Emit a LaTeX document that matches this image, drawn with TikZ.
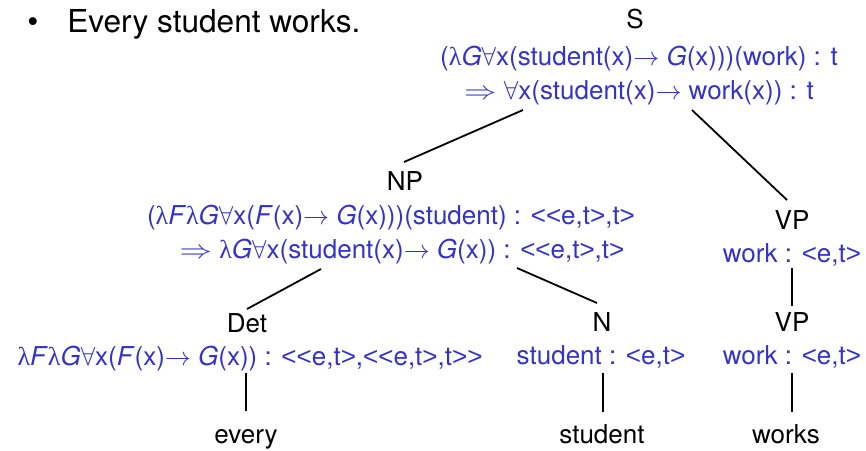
\RequirePackage{fix-cm}
\documentclass[tikz,border=0pt]{standalone}
\usepackage{fontspec}
\setmainfont{TeX Gyre Heros}
\newfontfamily\greekfont{Liberation Serif}
\newfontfamily\anglefont{Liberation Sans}
\definecolor{semblue}{RGB}{51,51,204}
\newcommand{\lam}{{\greekfont λ}}
\newcommand{\la}{{\anglefont\symbol{"3C}}}
\newcommand{\ra}{{\anglefont\symbol{"3E}}}
\newcommand{\yields}{\scalebox{1.25}[1]{$\Rightarrow$}}
\tikzset{
  cat/.style={anchor=base, inner sep=0pt, font=\fontsize{13}{16}\selectfont, text=black},
  semline/.style={cat, text=semblue},
  branch/.style={draw=black, line width=0.9pt},
}
\begin{document}
\begin{tikzpicture}[x=0.5pt, y=-0.5pt]
\useasboundingbox (0,0) rectangle (866,450);

% example sentence
\node[anchor=base, inner sep=0pt, font=\fontsize{15.8}{19}\selectfont] (bul) at (33,32) {\textbullet};
\node[anchor=base west, inner sep=0pt, font=\fontsize{15.8}{19}\selectfont] (sent) at (67,32) {Every student works.};

% S
\node[cat] (S) at (635,28) {S};
\node[semline] (s1) at (639,65) {(\lam\textit{G}$\forall$x(student(x)$\rightarrow$ \textit{G}(x)))(work) : t};
\node[semline] (s2) at (639,99) {\yields\ $\forall$x(student(x)$\rightarrow$ work(x)) : t};

% NP
\node[cat] (NP) at (405,190) {NP};
\node[semline] (np1) at (391,224) {(\lam\textit{F}\lam\textit{G}$\forall$x(\textit{F}(x)$\rightarrow$ \textit{G}(x)))(student) : \la\la e,t\ra,t\ra};
\node[semline] (np2) at (402,258) {\yields\ \lam\textit{G}$\forall$x(student(x)$\rightarrow$ \textit{G}(x)) : \la\la e,t\ra,t\ra};

% VP (upper)
\node[cat] (VP) at (792,229) {VP};
\node[semline] (vp1) at (792,262) {work : \la e,t\ra};

% Det
\node[cat] (Det) at (247,332) {Det};
\node[semline] (det1) at (250,365) {\lam\textit{F}\lam\textit{G}$\forall$x(\textit{F}(x)$\rightarrow$ \textit{G}(x)) : \la\la e,t\ra,\la\la e,t\ra,t\ra\ra};

% N
\node[cat] (N) at (602,331) {N};
\node[semline] (n1) at (601,364) {student : \la e,t\ra};

% VP (lower)
\node[cat] (VPb) at (792,331) {VP};
\node[semline] (vp2) at (792,364) {work : \la e,t\ra};

% words
\node[cat] (every) at (246,443) {every};
\node[cat] (student) at (602,443) {student};
\node[cat] (works) at (786,443) {works};

% branch end points
\coordinate (sA) at (523,110);
\coordinate (sB) at (692,110);
\coordinate (npTop) at (404,162);
\coordinate (vpTop) at (787,200);
\coordinate (npA) at (321,269);
\coordinate (npB) at (517,268);
\coordinate (detTop) at (247,309);
\coordinate (nTop) at (597,303);
\coordinate (vpA) at (792,268);
\coordinate (vpbTop) at (792,306);
\coordinate (detA) at (246,373);
\coordinate (everyTop) at (246,411);
\coordinate (nA) at (603,373);
\coordinate (studentTop) at (603,412);
\coordinate (vpbA) at (792,373);
\coordinate (worksTop) at (792,412);

\draw[branch] (sA) -- (npTop);
\draw[branch] (sB) -- (vpTop);
\draw[branch] (npA) -- (detTop);
\draw[branch] (npB) -- (nTop);
\draw[branch] (vpA) -- (vpbTop);
\draw[branch] (detA) -- (everyTop);
\draw[branch] (nA) -- (studentTop);
\draw[branch] (vpbA) -- (worksTop);
\end{tikzpicture}
\end{document}
